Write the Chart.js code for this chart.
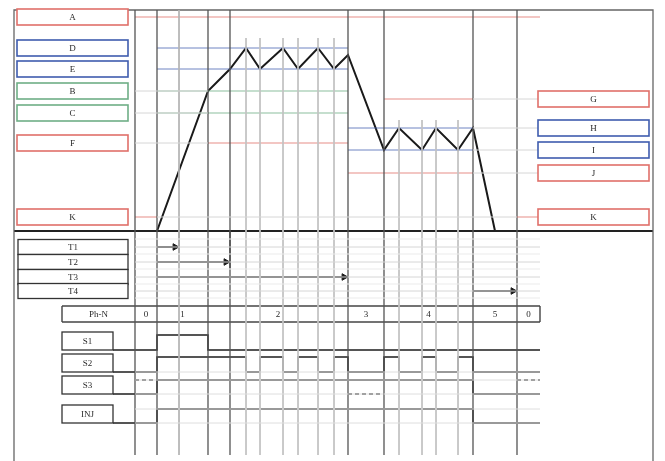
<!DOCTYPE html>
<html>
<head>
<meta charset="utf-8">
<script src="https://cdn.jsdelivr.net/npm/chart.js@4/dist/chart.umd.min.js"></script>
<style>
  html, body { margin: 0; padding: 0; background: #fff; }
</style>
</head>
<body>
<canvas id="timing" width="665" height="461"></canvas>
<script>
// ================================
// DATA (t = time units, 0 = start of phase 1 ; v = level units, 0 = base line)
// ================================
const phaseEdges = [-22, 0, 51, 191, 227, 316, 360, 383];
const phaseNames = ['0', '1', '2', '3', '4', '5', '0'];

// event lines
const majorTimes = [-22, 0, 51, 73, 191, 227, 316, 360];
const t1Time = 22;
const phase2Times = [89, 103, 126, 141, 161, 177];
const phase4Times = [242, 265, 279, 301];

// pressure profile
const profileT = [-143, 0, 51, 73, 89, 103, 126, 141, 161, 177, 191, 227, 242, 265, 279, 301, 316, 338, 496];
const profileV = [0, 0, 140, 162, 183, 162, 183, 162, 183, 162, 176, 81, 103, 81, 103, 81, 103, 0, 0];

// set-point levels
const leftNames = ['A', 'D', 'E', 'B', 'C', 'F', 'K'];
const leftLevels = [214, 183, 162, 140, 118, 88, 14];
const rightNames = ['G', 'H', 'I', 'J', 'K'];
const rightLevels = [132, 103, 81, 58, 14];

// timers
const timerNames = ['T1', 'T2', 'T3', 'T4'];
const timerStart = [0, 0, 0, 316];
const timerEnd = [22, 73, 191, 360];

// digital signals: switching times and states after each switch
const signalNames = ['S1', 'S2', 'S3', 'INJ'];
const s1Times = [-44, 0, 51, 383];
const s1States = [0, 1, 0, 0];
const s2Times = [-44, 0, 89, 103, 126, 141, 161, 177, 191, 227, 242, 265, 279, 301, 316, 383];
const s2States = [0, 1, 0, 1, 0, 1, 0, 1, 0, 1, 0, 1, 0, 1, 0, 0];
const s3Times = [-44, 0, 316, 383];
const s3States = [0, 1, 0, 0];
const injTimes = [-44, 0, 316, 383];
const injStates = [0, 1, 0, 0];
// optional S3 states (dashed): [start, end, state]
const s3Optional = [[-22, 0, 1], [191, 227, 0], [360, 383, 1]];

// ================================
// LAYOUT / STYLE
// ================================
const RED = '#e0706a', BLUE = '#3f5cae', GREEN = '#6fae86', GRID = '#d6d6d6';
const RED_L = 'rgba(224,112,106,0.8)', BLUE_L = 'rgba(63,92,174,0.75)', GREEN_L = 'rgba(111,174,134,0.8)';
const FRAME = { left: -143, right: 496, top: 221 };
const TOP_V = 221, BOTTOM_V = -224, TRACE_END = 383;
const timerRowV = [-16, -31, -46, -60];
const phaseRow = { top: -75, bottom: -91, left: -95 };
const sigHigh = [-104, -126, -149, -178];
const sigLow = [-119, -141, -163, -192];
const leftBox = { t0: -140, t1: -29 };
const rightBox = { t0: 381, t1: 492 };
const sigBox = { t0: -95, t1: -44 };

const pts = (ts, vs) => ts.map((t, i) => ({ x: t, y: vs[i] }));
const seg = (t0, t1, v0, v1) => [{ x: t0, y: v0 }, { x: t1, y: v1 === undefined ? v0 : v1 }];
const line = (data, color, width, extra = {}) => Object.assign({
    data, borderColor: color, borderWidth: width, pointRadius: 0,
    showLine: true, fill: false, tension: 0
}, extra);

const datasets = [];

// ---- grid: horizontal light lines
[-8, -23, -38, -53, -67].forEach(v => datasets.push(line(seg(-22, TRACE_END, v), '#ebebeb', 1)));
timerRowV.forEach(v => datasets.push(line(seg(-22, TRACE_END, v), GRID, 1)));
[sigLow[1], sigHigh[2], sigLow[2], sigHigh[3], sigLow[3]].forEach(v => datasets.push(line(seg(-22, TRACE_END, v), '#dedede', 1)));
datasets.push(line(seg(0, 360, 14), GRID, 1));
[140, 118, 88].forEach(v => datasets.push(line(seg(-22, 51, v), GRID, 1)));
rightLevels.slice(0, 4).forEach(v => datasets.push(line(seg(316, 381, v), GRID, 1)));
datasets.push(line(seg(360, 381, 14), RED_L, 1));

// ---- grid: vertical lines
datasets.push(line(seg(t1Time, t1Time, TOP_V, BOTTOM_V), '#b4b4b4', 1));
phase2Times.forEach(t => datasets.push(line(seg(t, t, 193, BOTTOM_V), '#c2c2c2', 1)));
phase4Times.forEach(t => datasets.push(line(seg(t, t, 111, BOTTOM_V), '#c2c2c2', 1)));
majorTimes.forEach(t => datasets.push(line(seg(t, t, TOP_V, BOTTOM_V), '#555555', 1.3)));

// ---- set-point lines
datasets.push(line(seg(-22, TRACE_END, 214), RED_L, 1));
datasets.push(line(seg(0, 191, 183), BLUE_L, 1));
datasets.push(line(seg(0, 191, 162), BLUE_L, 1));
datasets.push(line(seg(0, 191, 140), GREEN_L, 1));
datasets.push(line(seg(0, 191, 118), GREEN_L, 1));
datasets.push(line(seg(51, 191, 88), RED_L, 1));
datasets.push(line(seg(-22, 0, 14), RED_L, 1));
datasets.push(line(seg(227, 316, 132), RED_L, 1));
datasets.push(line(seg(191, 316, 103), BLUE_L, 1));
datasets.push(line(seg(191, 316, 81), BLUE_L, 1));
datasets.push(line(seg(191, 316, 58), RED_L, 1));

// ---- frame and base line
datasets.push(line([{ x: FRAME.left, y: -240 }, { x: FRAME.left, y: FRAME.top }, { x: FRAME.right, y: FRAME.top }, { x: FRAME.right, y: -240 }], '#666666', 1.3));
datasets.push(line(seg(FRAME.left, FRAME.right, 0), '#222222', 2));

// ---- pressure profile
datasets.push(line(pts(profileT, profileV), '#1a1a1a', 2));

// ---- timers (arrow + tick)
timerNames.forEach((n, i) => {
    datasets.push(line(seg(timerStart[i], timerEnd[i], timerRowV[i]), '#1a1a1a', 1.6));
    datasets.push({
        data: [{ x: timerEnd[i] - 4, y: timerRowV[i] }], pointStyle: 'triangle', rotation: 90,
        pointRadius: 3.8, backgroundColor: '#1a1a1a', borderColor: '#1a1a1a', borderWidth: 1, showLine: false
    });
});
datasets.push(line(seg(t1Time, t1Time, 0, -22), '#333333', 1.4));
datasets.push(line(seg(73, 73, 0, -37), '#333333', 1.4));

// ---- phase row borders
datasets.push(line(seg(phaseRow.left, TRACE_END, phaseRow.top), '#444444', 1.4));
datasets.push(line(seg(phaseRow.left, TRACE_END, phaseRow.bottom), '#444444', 1.4));
datasets.push(line(seg(TRACE_END, TRACE_END, phaseRow.top, phaseRow.bottom), '#444444', 1.4));
datasets.push(line(seg(phaseRow.left, phaseRow.left, phaseRow.top, phaseRow.bottom), '#444444', 1.4));

// ---- digital signals ('before' = hold previous level, switch at the new time)
const sigSeries = [[s1Times, s1States], [s2Times, s2States], [s3Times, s3States], [injTimes, injStates]];
sigSeries.forEach(([ts, ss], i) => {
    const data = ts.map((t, k) => ({ x: t, y: ss[k] ? sigHigh[i] : sigLow[i] }));
    datasets.push(line(data, '#1e1e1e', 1.6, { stepped: 'before' }));
});
s3Optional.forEach(([t0, t1, s]) => {
    datasets.push(line(seg(t0, t1, s ? sigHigh[2] : sigLow[2]), '#333333', 1.5, { borderDash: [4, 3] }));
});

// ================================
// LABEL BOXES PLUGIN
// ================================
const boxes = [];
leftNames.forEach((n, i) => boxes.push({ text: n, t0: leftBox.t0, t1: leftBox.t1, v0: leftLevels[i] + 8, v1: leftLevels[i] - 8,
    color: ['A', 'F', 'K'].includes(n) ? RED : (['D', 'E'].includes(n) ? BLUE : GREEN), w: 1.6 }));
rightNames.forEach((n, i) => boxes.push({ text: n, t0: rightBox.t0, t1: rightBox.t1, v0: rightLevels[i] + 8, v1: rightLevels[i] - 8,
    color: ['H', 'I'].includes(n) ? BLUE : RED, w: 1.6 }));
timerNames.forEach((n, i) => boxes.push({ text: n, t0: leftBox.t0 + 1, t1: leftBox.t1, v0: timerRowV[i] + 7.5, v1: timerRowV[i] - 7.5, color: '#333333', w: 1.3 }));
signalNames.forEach((n, i) => boxes.push({ text: n, t0: sigBox.t0, t1: sigBox.t1, v0: sigLow[i] + 18, v1: sigLow[i], color: '#333333', w: 1.3 }));

const boxPlugin = {
    id: 'labelBoxes',
    beforeDraw(chart) {
        const { ctx } = chart;
        ctx.save();
        ctx.fillStyle = '#ffffff';
        ctx.fillRect(0, 0, chart.width, chart.height);
        ctx.restore();
    },
    afterDatasetsDraw(chart) {
        const { ctx, scales: { x, y } } = chart;
        ctx.save();
        ctx.font = '9px "Liberation Serif", "DejaVu Serif", serif';
        ctx.textAlign = 'center';
        ctx.textBaseline = 'middle';
        boxes.forEach(b => {
            const x0 = x.getPixelForValue(b.t0), x1 = x.getPixelForValue(b.t1);
            const y0 = y.getPixelForValue(b.v0), y1 = y.getPixelForValue(b.v1);
            ctx.fillStyle = '#ffffff';
            ctx.fillRect(x0, y0, x1 - x0, y1 - y0);
            ctx.strokeStyle = b.color;
            ctx.lineWidth = b.w;
            ctx.strokeRect(x0, y0, x1 - x0, y1 - y0);
            ctx.fillStyle = '#2a2a2a';
            ctx.fillText(b.text, (x0 + x1) / 2, (y0 + y1) / 2 + 0.5);
        });
        // phase number row
        const ym = y.getPixelForValue((phaseRow.top + phaseRow.bottom) / 2) + 0.5;
        ctx.fillText('Ph-N', (x.getPixelForValue(phaseRow.left) + x.getPixelForValue(phaseEdges[0])) / 2, ym);
        phaseNames.forEach((n, i) => {
            ctx.fillText(n, (x.getPixelForValue(phaseEdges[i]) + x.getPixelForValue(phaseEdges[i + 1])) / 2, ym);
        });
        ctx.restore();
    }
};

new Chart(document.getElementById('timing').getContext('2d'), {
    type: 'scatter',
    data: { datasets },
    options: {
        responsive: false,
        animation: false,
        layout: { padding: 0, autoPadding: false },
        scales: {
            x: { type: 'linear', min: -157, max: 508, display: false },
            y: { type: 'linear', min: -230, max: 231, display: false }
        },
        plugins: { legend: { display: false }, tooltip: { enabled: false } }
    },
    plugins: [boxPlugin]
});
</script>
</body>
</html>
